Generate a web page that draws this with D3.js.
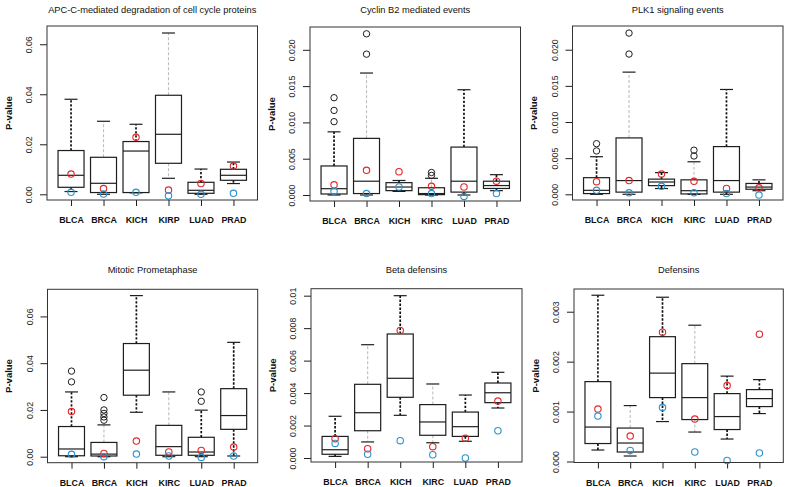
<!DOCTYPE html>
<html><head><meta charset="utf-8">
<script src="https://cdn.jsdelivr.net/npm/d3@7"></script>
<style>
body{margin:0;background:#fff}
text{font-family:"Liberation Sans", Arial, Helvetica, sans-serif}
</style>
</head><body>
<svg id="c" width="787" height="487"></svg>
<script>
// ---------- data ----------
const titles = [
  "APC-C-mediated degradation of cell cycle proteins",
  "Cyclin B2 mediated events",
  "PLK1 signaling events",
  "Mitotic Prometaphase",
  "Beta defensins",
  "Defensins"
];
const catsA = ["BLCA","BRCA","KICH","KIRP","LUAD","PRAD"];
const catsB = ["BLCA","BRCA","KICH","KIRC","LUAD","PRAD"];

// box stats: [lower whisker, Q1, median, Q3, upper whisker]
const apcBoxes = [
  [0.0011,0.0028,0.0076,0.0175,0.0380],
  [0.0000,0.0007,0.0044,0.0148,0.0292],
  [0.0006,0.0007,0.0173,0.0211,0.0280],
  [0.0064,0.0124,0.0240,0.0396,0.0645],
  [0.0000,0.0004,0.0016,0.0048,0.0101],
  [0.0043,0.0056,0.0076,0.0100,0.0129]
];
const apcOutliers = [[],[],[],[],[],[]];
const apcRed  = [0.0081,0.0023,0.0228,0.0017,0.0043,0.0113];
const apcBlue = [0.0008,0.0001,0.0008,-0.0006,0.0000,0.0004];
const apcTicks = [0,0.02,0.04,0.06];
const apcTickLabels = ["0.00","0.02","0.04","0.06"];
const apcRange = [-0.00228,0.0673];

const cycBoxes = [
  [0.0000,0.00014,0.00087,0.0040,0.0087],
  [0.0000,0.0002,0.0019,0.0078,0.0168],
  [0.0005,0.0006,0.0011,0.0017,0.0020],
  [0.0000,0.00005,0.0002,0.0010,0.0023],
  [0.0000,0.0004,0.0019,0.0066,0.0145],
  [0.0006,0.0009,0.0013,0.0019,0.0028]
];
const cycOutliers = [[0.0101,0.01165,0.0134],[0.0194,0.0222],[],[0.0027,0.0031],[],[]];
const cycRed  = [0.0014,0.0034,0.0032,0.0012,0.0011,0.0019];
const cycBlue = [0.0005,0.0002,0.0011,0.0002,-0.0002,0.0002];
const cycTicks = [0,0.005,0.01,0.015,0.02];
const cycTickLabels = ["0.000","0.005","0.010","0.015","0.020"];
const cycRange = [-0.000826,0.02314];

const plkBoxes = [
  [0.0000,0.0001,0.00055,0.0023,0.0052],
  [0.0000,0.0003,0.0019,0.0078,0.0169],
  [0.0008,0.0012,0.0017,0.0021,0.0030],
  [0.0000,0.00005,0.0005,0.0020,0.0045],
  [0.0000,0.0003,0.0019,0.0066,0.0145],
  [0.0005,0.0007,0.0010,0.0015,0.0020]
];
const plkOutliers = [[0.0060,0.0070],[0.0194,0.0223],[],[0.0053,0.0061],[],[]];
const plkRed  = [0.00175,0.0019,0.0028,0.0018,0.0008,0.0009];
const plkBlue = [0.00055,0.0002,0.0011,0.0002,0.0001,-0.0001];
const plkTicks = [0,0.005,0.01,0.015,0.02];
const plkTickLabels = ["0.000","0.005","0.010","0.015","0.020"];
const plkRange = [-0.000788,0.02328];

const mitBoxes = [
  [0.0000,0.0004,0.0033,0.0129,0.0277],
  [0.0000,0.0003,0.0011,0.0061,0.0136],
  [0.0190,0.0263,0.0370,0.0484,0.0689],
  [0.0000,0.0006,0.0043,0.0134,0.0277],
  [0.0000,0.0006,0.0020,0.0083,0.0199],
  [0.0003,0.0117,0.0176,0.0291,0.0489]
];
const mitOutliers = [[0.0320,0.0366],[0.0156,0.0170,0.0185,0.0200,0.0253],[],[],[0.0237,0.0277],[]];
const mitRed  = [0.0193,0.0014,0.0067,0.0020,0.0027,0.0041];
const mitBlue = [0.0010,0.0000,0.0011,0.0003,-0.0003,0.0003];
const mitTicks = [0,0.02,0.04,0.06];
const mitTickLabels = ["0.00","0.02","0.04","0.06"];
const mitRange = [-0.00257,0.0716];

const betBoxes = [
  [0.00010,0.00023,0.00051,0.00133,0.00257],
  [0.00099,0.00168,0.00279,0.00454,0.00698],
  [0.00263,0.00374,0.00491,0.00764,0.01000],
  [0.00094,0.00140,0.00222,0.00329,0.00456],
  [0.00103,0.00133,0.00193,0.00283,0.00388],
  [0.00308,0.00341,0.00402,0.00462,0.00528]
];
const betOutliers = [[],[],[],[],[],[]];
const betRed  = [0.00119,0.00057,0.00786,0.00070,0.00121,0.00351];
const betBlue = [0.00090,0.00023,0.00107,0.00020,0.00000,0.00168];
const betTicks = [0,0.002,0.004,0.006,0.008,0.01];
const betTickLabels = ["0.000","0.002","0.004","0.006","0.008","0.01"];
const betRange = [-0.000246,0.01043];

const defBoxes = [
  [0.00023,0.00036,0.00069,0.00160,0.00333],
  [0.00011,0.00019,0.00037,0.00067,0.00112],
  [0.00080,0.00128,0.00177,0.00250,0.00329],
  [0.00059,0.00084,0.00128,0.00196,0.00273],
  [0.00045,0.00064,0.00090,0.00136,0.00171],
  [0.00096,0.00110,0.00126,0.00144,0.00164]
];
const defOutliers = [[],[],[],[],[],[]];
const defRed  = [0.00105,0.00051,0.00259,0.00085,0.00152,0.00255];
const defBlue = [0.00091,0.00022,0.00108,0.00019,0.00002,0.00017];
const defTicks = [0,0.001,0.002,0.003];
const defTickLabels = ["0.000","0.001","0.002","0.003"];
const defRange = [-0.00002,0.003455];

// ---------- layout ----------
const panels = [
  {title:titles[0], cats:catsA, boxes:apcBoxes, out:apcOutliers, red:apcRed, blue:apcBlue, ticks:apcTicks, labels:apcTickLabels, range:apcRange, r:{l:47,t:26,r:257.5,b:200}, ty:12.5},
  {title:titles[1], cats:catsB, boxes:cycBoxes, out:cycOutliers, red:cycRed, blue:cycBlue, ticks:cycTicks, labels:cycTickLabels, range:cycRange, r:{l:310,t:27,r:520.5,b:201}, ty:12.5},
  {title:titles[2], cats:catsB, boxes:plkBoxes, out:plkOutliers, red:plkRed, blue:plkBlue, ticks:plkTicks, labels:plkTickLabels, range:plkRange, r:{l:572.5,t:26,r:783,b:200}, ty:12.5},
  {title:titles[3], cats:catsB, boxes:mitBoxes, out:mitOutliers, red:mitRed, blue:mitBlue, ticks:mitTicks, labels:mitTickLabels, range:mitRange, r:{l:47.5,t:289.3,r:257.7,b:462.7}, ty:272.5},
  {title:titles[4], cats:catsB, boxes:betBoxes, out:betOutliers, red:betRed, blue:betBlue, ticks:betTicks, labels:betTickLabels, range:betRange, r:{l:311,t:288.7,r:522,b:462}, ty:272.5},
  {title:titles[5], cats:catsB, boxes:defBoxes, out:defOutliers, red:defRed, blue:defBlue, ticks:defTicks, labels:defTickLabels, range:defRange, r:{l:574,t:289,r:783.3,b:462.5}, ty:272.5}
];

const svg = d3.select("#c");
const INK = "#1e1e1e";
const RED = "#e2272b";
const BLUE = "#2b93cc";

panels.forEach(p => {
  const r = p.r;
  const g = svg.append("g");
  const x = d3.scalePoint().domain(p.cats).range([r.l, r.r]).padding(0.74);
  const y = d3.scaleLinear().domain(p.range).range([r.b, r.t]);
  const step = x.step();
  const hw = step * 0.4, cw = hw / 2;

  // title
  g.append("text").attr("x",(r.l+r.r)/2).attr("y",p.ty)
    .attr("text-anchor","middle").attr("font-size","9.3px").attr("fill","#111").text(p.title);

  // y label
  const yc = (r.t+r.b)/2;
  g.append("text").attr("transform",`translate(${r.l-35.5},${yc}) rotate(-90)`)
    .attr("text-anchor","middle").attr("font-size","9.5px").attr("font-weight","bold").attr("fill","#111").text("P-value");

  // x axis
  const xa = g.append("g").attr("transform",`translate(0,${r.b})`)
    .call(d3.axisBottom(x).tickSize(6).tickPadding(11));
  xa.select(".domain").remove();
  xa.selectAll(".tick line").attr("stroke",INK);
  xa.selectAll(".tick text").attr("font-size","8.9px").attr("font-weight","bold")
    .attr("fill","#111").style("font-family",'"Liberation Sans", Arial, sans-serif');

  // y axis
  const ya = g.append("g").attr("transform",`translate(${r.l},0)`)
    .call(d3.axisLeft(y).tickValues(p.ticks).tickFormat((d,i)=>p.labels[i]).tickSize(7));
  ya.select(".domain").remove();
  ya.selectAll(".tick line").attr("stroke",INK);
  ya.selectAll(".tick text").attr("x",null).attr("dy",null)
    .attr("text-anchor","middle").attr("transform","translate(-14.6,0) rotate(-90)")
    .attr("font-size","8.7px").attr("fill","#222").style("font-family",'"Liberation Sans", Arial, sans-serif');

  // boxes
  p.boxes.forEach((b, i) => {
    const cx = x(p.cats[i]);
    const [lo,q1,md,q3,hi] = b;
    const light = (i === 1 || i === 3);
    const wStroke = light ? "#bdbdbd" : "#111";
    const wWidth = light ? 1.1 : 1.7;
    const wDash = light ? "3,2" : "2.4,1.6";
    if (hi > q3) g.append("line").attr("x1",cx).attr("x2",cx).attr("y1",y(q3)).attr("y2",y(hi))
      .attr("stroke",wStroke).attr("stroke-width",wWidth).attr("stroke-dasharray",wDash);
    if (lo < q1) g.append("line").attr("x1",cx).attr("x2",cx).attr("y1",y(q1)).attr("y2",y(lo))
      .attr("stroke",wStroke).attr("stroke-width",wWidth).attr("stroke-dasharray",wDash);
    [lo,hi].forEach(v => g.append("line").attr("x1",cx-cw).attr("x2",cx+cw).attr("y1",y(v)).attr("y2",y(v))
      .attr("stroke",INK).attr("stroke-width",1.2));
    g.append("rect").attr("x",cx-hw).attr("width",2*hw).attr("y",y(q3)).attr("height",Math.max(0.5,y(q1)-y(q3)))
      .attr("fill","none").attr("stroke",INK).attr("stroke-width",1.2);
    g.append("line").attr("x1",cx-hw).attr("x2",cx+hw).attr("y1",y(md)).attr("y2",y(md))
      .attr("stroke",INK).attr("stroke-width",1.2);
    p.out[i].forEach(v => g.append("circle").attr("cx",cx).attr("cy",y(v)).attr("r",3.2)
      .attr("fill","none").attr("stroke",INK).attr("stroke-width",1));
    g.append("circle").attr("cx",cx).attr("cy",y(p.red[i])).attr("r",3.2)
      .attr("fill","none").attr("stroke",RED).attr("stroke-width",1.1);
    g.append("circle").attr("cx",cx).attr("cy",y(p.blue[i])).attr("r",3.2)
      .attr("fill","none").attr("stroke",BLUE).attr("stroke-width",1.1);
  });

  // frame
  g.append("rect").attr("x",r.l).attr("y",r.t).attr("width",r.r-r.l).attr("height",r.b-r.t)
    .attr("fill","none").attr("stroke","#333").attr("stroke-width",1);
});
</script>
</body></html>
